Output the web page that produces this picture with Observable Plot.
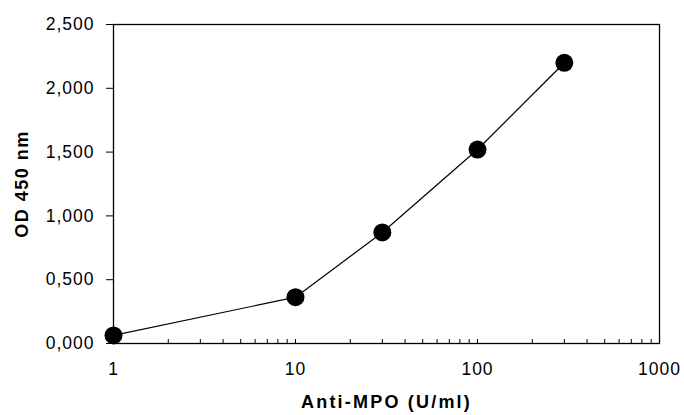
<!DOCTYPE html>
<html>
<head>
<meta charset="utf-8">
<script src="https://cdn.jsdelivr.net/npm/d3@7"></script>
<script src="https://cdn.jsdelivr.net/npm/@observablehq/plot@0.6"></script>
<style>
  html, body { margin: 0; padding: 0; background: #fff; }
  #chart svg { display: block; background: #fff; }
  #chart g[aria-label="y-axis tick label"] text,
  #chart g[aria-label="x-axis tick label"] text { font-size: 17.5px !important; letter-spacing: 1px; }
  #chart g[aria-label="y-axis label"] text { font-weight: bold; font-size: 18px !important; letter-spacing: 1.5px; }
  #chart g[aria-label="x-axis label"] text { font-weight: bold; font-size: 18px !important; letter-spacing: 2.2px; }
</style>
</head>
<body>
<div id="chart"></div>
<script>
// Data
const concentrations = [1, 10, 30, 100, 300];          // Anti-MPO (U/ml)
const odValues = [0.063, 0.363, 0.87, 1.52, 2.2];      // OD 450 nm
const yTicks = [0, 0.5, 1, 1.5, 2, 2.5];
const xMajorTicks = [1, 10, 100, 1000];
const xAllTicks = [2,3,4,5,6,7,8,9,10,20,30,40,50,60,70,80,90,100,200,300,400,500,600,700,800,900];
const xTitle = "Anti-MPO (U/ml)";
const yTitle = "OD 450 nm";

const data = concentrations.map((c, i) => ({x: c, y: odValues[i]}));
const fmt = d => d3.format(".3f")(d).replace(".", ",");

const chart = Plot.plot({
  width: 684,
  height: 415,
  marginLeft: 113,
  marginRight: 25,
  marginTop: 24,
  marginBottom: 72,
  style: {fontFamily: "'Liberation Sans', Arial, sans-serif", fontSize: "17px", color: "#000", background: "#fff"},
  x: {type: "log", domain: [1, 1000]},
  y: {domain: [0, 2.5]},
  marks: [
    Plot.frame({stroke: "#000", strokeWidth: 1.3}),
    Plot.tickX(xAllTicks, {x: d => d, stroke: "#000", insetTop: 315}),
    Plot.axisY({ticks: yTicks, tickFormat: fmt, tickSize: 7, tickPadding: 12, fontSize: 17.5, label: yTitle, labelAnchor: "center", labelArrow: "none", labelOffset: 98}),
    Plot.axisX({ticks: xMajorTicks, tickFormat: d => String(d), tickSize: 0, tickPadding: 19, fontSize: 17.5, label: xTitle, labelAnchor: "center", labelArrow: "none", labelOffset: 64}),
    Plot.line(data, {x: "x", y: "y", stroke: "#000", strokeWidth: 1.2}),
    Plot.dot(data, {x: "x", y: "y", r: 9, fill: "#000", stroke: "none"})
  ]
});
document.getElementById("chart").appendChild(chart);
</script>
</body>
</html>
